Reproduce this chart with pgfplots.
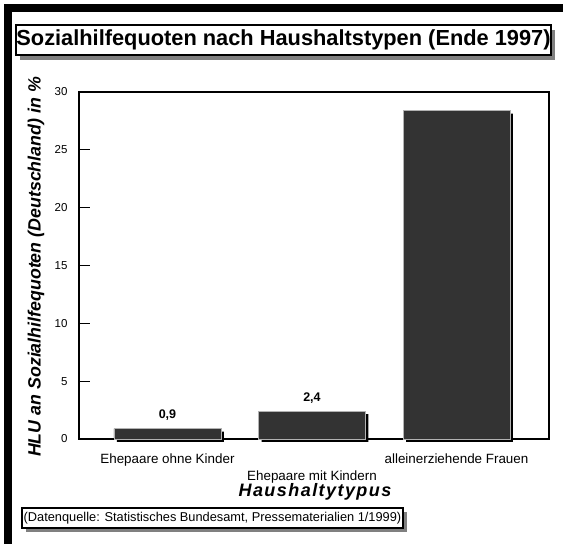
\documentclass[border=0pt]{standalone}
\usepackage{fontspec}
\setmainfont{Liberation Sans}
\usepackage{pgfplots}
\pgfplotsset{compat=1.18}
\definecolor{barfill}{HTML}{333333}
\definecolor{shadowgray}{HTML}{808080}
\begin{document}
\begin{tikzpicture}
\path[use as bounding box, fill=white] (0pt,0pt) rectangle (563pt,544pt);
% frame bands (left and top)
\fill[black] (4pt,0pt) rectangle (12pt,540pt);
\fill[black] (4pt,532pt) rectangle (563pt,540pt);
% title box
\fill[shadowgray] (20pt,484pt) rectangle (555pt,514pt);
\draw[fill=white, line width=1.5pt] (16pt,489pt) rectangle (551pt,519pt);
\node[font=\fontsize{21.8}{24}\selectfont\bfseries] at (283.5pt,504pt) {Sozialhilfequoten nach Haushaltstypen (Ende 1997)};
% y label
\node[rotate=90, font=\fontsize{17.8}{20}\selectfont\bfseries\itshape] at (36pt,277pt) {HLU an Sozialhilfequoten (Deutschland) in \%};
\begin{axis}[
  at={(79pt,105pt)}, anchor=south west, scale only axis,
  width=470pt, height=347pt,
  xmin=-0.612, xmax=2.64, ymin=0, ymax=30,
  ytick={0,5,...,30},
  xtick={0,2},
  xticklabels={Ehepaare ohne Kinder, alleinerziehende Frauen},
  extra x ticks={1},
  extra x tick labels={Ehepaare mit Kindern},
  extra x tick style={xticklabel style={yshift=-17pt}},
  axis line style={line width=1.3pt},
  ytick style={line width=1.3pt, black},
  major tick length=11pt, tick align=inside, ytick pos=left,
  xtick style={draw=none},
  yticklabel style={font=\fontsize{11.5}{13}\selectfont, xshift=-8pt},
  xticklabel style={font=\fontsize{13.4}{15}\selectfont, yshift=-11pt},
  /pgf/number format/assume math mode=true,
  clip=false,
]
\addplot[ybar, bar width=0.74, bar shift=0pt, fill=black, draw=none, xshift=3pt, yshift=-3pt, forget plot]
  coordinates {(0,0.9) (1,2.4) (2,28.4)};
\addplot[ybar, bar width=0.74, bar shift=0pt, fill=barfill, draw=gray!60, line width=0.5pt,
  point meta=explicit symbolic,
  nodes near coords={\textbf{\pgfplotspointmeta}},
  every node near coord/.append style={anchor=center, yshift=13pt, font=\fontsize{12.5}{14}\selectfont, text=black}]
  coordinates {(0,0.9) [0,9] (1,2.4) [2,4] (2,28.4) []};
\end{axis}
% x axis title
\node[font=\fontsize{18}{20}\selectfont\bfseries\itshape\addfontfeature{LetterSpace=8}] at (315pt,52pt) {Haushaltytypus};
% source box
\fill[shadowgray] (26pt,12pt) rectangle (407pt,32pt);
\draw[fill=white, line width=1.5pt] (22pt,16pt) rectangle (403pt,36pt);
\node[anchor=west, inner sep=0pt, font=\fontsize{12.8}{14}\selectfont] at (23.5pt,26pt) {(Datenquelle: Statistisches Bundesamt, Pressematerialien 1/1999)};
\end{tikzpicture}
\end{document}
